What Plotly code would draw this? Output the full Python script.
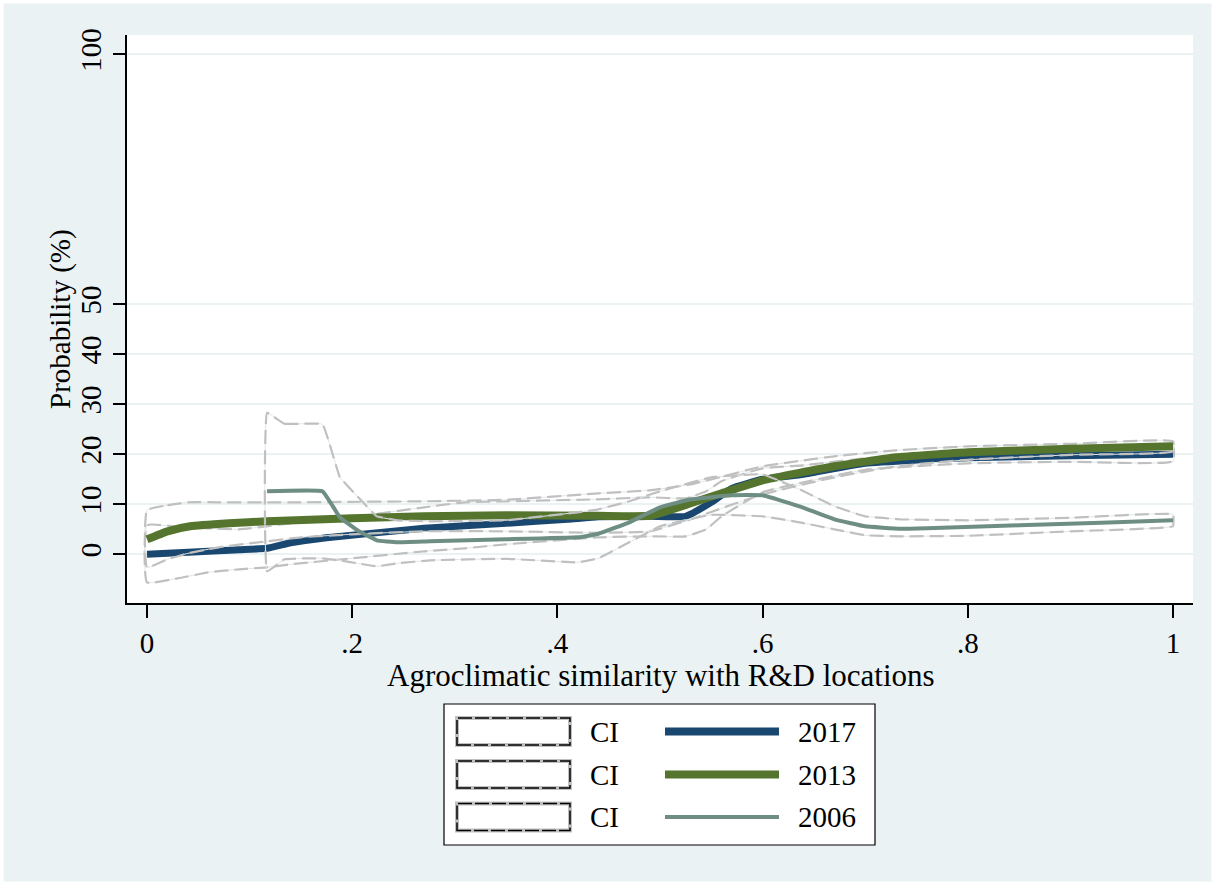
import plotly.graph_objects as go

# ---------------- data ----------------
x2017 = [0, .03, .06, .09, .117, .14, .175, .27, .35, .41, .44, .49, .525, .55, .57, .6, .64, .7, .8, .9, 1.0]
y2017 = [0, .3, .6, .9, 1.2, 2.3, 3.3, 5.2, 6.2, 7.0, 7.5, 7.6, 7.6, 10.4, 13.2, 15.0, 16.0, 18.2, 19.3, 19.7, 20.0]

x2013 = [0, .02, .042, .08, .117, .2, .27, .35, .44, .49, .53, .56, .6, .67, .73, .8, .9, 1.0]
y2013 = [3.0, 4.6, 5.6, 6.2, 6.6, 7.2, 7.6, 7.8, 7.7, 7.7, 10.2, 12.2, 14.8, 17.6, 19.4, 20.4, 21.1, 21.6]

x2006 = [.117, .171, .188, .205, .224, .244, .276, .35, .42, .44, .47, .5, .53, .57, .6, .636, .67, .70, .734, .76, .85, .93, 1.0]
y2006 = [12.6, 12.6, 7.4, 4.8, 2.8, 2.4, 2.6, 3.0, 3.4, 4.1, 6.4, 9.4, 11.0, 11.8, 11.8, 9.6, 7.0, 5.6, 5.1, 5.2, 5.8, 6.3, 6.8]

ci17_x = [0, .03, .06, .09, .117, .14, .2, .27, .31, .35, .44, .49, .525, .545, .56, .6, .64, .7, .8, .9, 1.0]
ci17_hi = [5.8, 5.5, 5.2, 5.0, 5.6, 6.2, 7.4, 9.4, 10.4, 10.6, 11.0, 11.4, 11.2, 12.6, 14.6, 17.2, 17.8, 19.2, 20.2, 20.8, 21.4]
ci17_lo = [-5.6, -4.8, -3.6, -3.0, -2.6, -2.0, -0.8, 0.6, 1.2, 2.0, 3.4, 3.6, 3.6, 5.0, 7.6, 12.4, 14.4, 16.9, 18.2, 18.5, 18.6]

ci13_x = [0, .02, .04, .07, .117, .15, .2, .27, .35, .44, .49, .53, .56, .6, .67, .73, .8, .9, 1.0]
ci13_hi = [8.8, 9.8, 10.4, 10.4, 10.4, 10.4, 10.5, 10.6, 10.9, 12.2, 12.8, 14.0, 15.5, 17.6, 19.6, 20.8, 21.6, 22.1, 22.6]
ci13_lo = [-2.6, -1.0, 0.2, 1.4, 2.6, 3.4, 4.0, 4.6, 4.6, 4.3, 4.6, 7.0, 9.2, 12.0, 15.4, 17.6, 18.9, 19.9, 20.6]

ci06_x = [.117, .134, .171, .188, .205, .224, .244, .276, .35, .42, .44, .47, .5, .55, .6, .636, .67, .70, .734, .8, .9, 1.0]
ci06_hi = [28.3, 26.1, 26.0, 15.4, 11.6, 7.6, 6.8, 6.6, 6.8, 8.4, 9.0, 10.6, 12.6, 15.4, 16.0, 13.0, 9.6, 7.6, 7.0, 6.8, 7.3, 8.0]
ci06_lo = [-3.4, -1.0, -0.8, -1.2, -1.8, -2.4, -1.8, -1.2, -0.9, -1.6, -0.8, 2.4, 5.6, 7.9, 7.6, 6.4, 5.0, 3.8, 3.6, 3.7, 4.6, 5.6]

xtick_vals = [0, 0.2, 0.4, 0.6, 0.8, 1.0]
xtick_text = ["0", ".2", ".4", ".6", ".8", "1"]
ytick_vals = [0, 10, 20, 30, 40, 50, 100]
ytick_text = ["0", "10", "20", "30", "40", "50", "100"]

series_names = ["2017", "2013", "2006"]
ci_label = "CI"

# ---------------- styles ----------------
C17 = "#1a476f"
C13 = "#55752f"
C06 = "#6e8e84"
CI_GRAY = "#c0c0c0"
BG = "#eaf2f3"
FONT = "Liberation Serif, Times New Roman, serif"

W, H = 1215, 885
L, R, T, B = 127, 1193, 35, 603


def px2x(px):
    return (px - L) / (R - L)


def py2y(py):
    return (B - py) / (B - T)


fig = go.Figure()


def add_ci(xs, hi, lo, smooth):
    px = list(xs) + list(reversed(xs)) + [xs[0]]
    py = list(hi) + list(reversed(lo)) + [hi[0]]
    fig.add_trace(go.Scatter(x=px, y=py, mode="lines", showlegend=False, hoverinfo="skip",
                             line=dict(color="#dfe7ea", width=1, shape="spline", smoothing=smooth)))
    fig.add_trace(go.Scatter(x=px, y=py, mode="lines", showlegend=False, hoverinfo="skip",
                             line=dict(color=CI_GRAY, width=2.2, dash="14px,6px", shape="spline",
                                       smoothing=smooth)))


def add_line(xs, ys, color, width, smooth):
    fig.add_trace(go.Scatter(x=xs, y=ys, mode="lines", showlegend=False,
                             line=dict(color=color, width=width, shape="spline", smoothing=smooth)))


add_ci(ci17_x, ci17_hi, ci17_lo, 0.4)
add_line(x2017, y2017, C17, 7, 0.4)
add_ci(ci13_x, ci13_hi, ci13_lo, 0.4)
add_line(x2013, y2013, C13, 8, 0.4)
add_ci(ci06_x, ci06_hi, ci06_lo, 0.25)
add_line(x2006, y2006, C06, 4, 0.25)

shapes = []
annotations = []

# outer white frame of the page
shapes.append(dict(type="rect", xref="paper", yref="paper", layer="above",
                   x0=px2x(0), x1=px2x(W), y0=py2y(H), y1=py2y(0),
                   line=dict(color="white", width=7), fillcolor="rgba(0,0,0,0)"))

# legend box
lx0, lx1, ly0, ly1 = 444, 875, 704, 845
shapes.append(dict(type="rect", xref="paper", yref="paper", layer="above",
                   x0=px2x(lx0), x1=px2x(lx1), y0=py2y(ly1), y1=py2y(ly0),
                   line=dict(color="black", width=1.2), fillcolor="white"))
row_y = [731.5, 774.5, 817]
line_cols = [C17, C13, C06]
line_ws = [8, 8, 4]
for i, ry in enumerate(row_y):
    for col, w, dash in [(CI_GRAY, 4, "solid"), ("black", 1.5, "14px,3px")]:
        shapes.append(dict(type="rect", xref="paper", yref="paper", layer="above",
                           x0=px2x(457), x1=px2x(570), y0=py2y(ry + 13.5), y1=py2y(ry - 13.5),
                           line=dict(color=col, width=w, dash=dash), fillcolor="rgba(0,0,0,0)"))
    shapes.append(dict(type="line", xref="paper", yref="paper", layer="above",
                       x0=px2x(665), x1=px2x(779), y0=py2y(ry), y1=py2y(ry),
                       line=dict(color=line_cols[i], width=line_ws[i])))
    annotations.append(dict(xref="paper", yref="paper", x=px2x(588), y=py2y(ry), text=ci_label,
                            showarrow=False, xanchor="left", yanchor="middle",
                            font=dict(family=FONT, size=29, color="black")))
    annotations.append(dict(xref="paper", yref="paper", x=px2x(796), y=py2y(ry), text=series_names[i],
                            showarrow=False, xanchor="left", yanchor="middle",
                            font=dict(family=FONT, size=29, color="black")))

# axis titles
annotations.append(dict(xref="paper", yref="paper", x=px2x(661), y=py2y(675),
                        text="Agroclimatic similarity with R&D locations", showarrow=False,
                        xanchor="center", yanchor="middle", font=dict(family=FONT, size=31, color="black")))
annotations.append(dict(xref="paper", yref="paper", x=px2x(60), y=py2y(319),
                        text="Probability (%)", showarrow=False, textangle=-90,
                        xanchor="center", yanchor="middle", font=dict(family=FONT, size=29, color="black")))

x_lo = (L - 147) / 1026
x_hi = (R - 147) / 1026
y_lo = (554.3 - B) / 5.0
y_hi = (554.3 - T) / 5.0

fig.update_layout(
    width=W, height=H,
    margin=dict(l=L, r=W - R, t=T, b=H - B, autoexpand=False),
    paper_bgcolor=BG, plot_bgcolor="white",
    showlegend=False,
    shapes=shapes, annotations=annotations,
    font=dict(family=FONT, size=29, color="black"),
    xaxis=dict(range=[x_lo, x_hi], tickvals=xtick_vals, ticktext=xtick_text,
               showgrid=False, zeroline=False, showline=True, linecolor="black", linewidth=2,
               ticks="outside", ticklen=13, tickwidth=1.5, tickcolor="black",
               tickfont=dict(family=FONT, size=29, color="black")),
    yaxis=dict(range=[y_lo, y_hi], tickvals=ytick_vals, ticktext=ytick_text, tickangle=-90,
               showgrid=True, gridcolor=BG, gridwidth=2, zeroline=False,
               showline=True, linecolor="black", linewidth=2,
               ticks="outside", ticklen=12, tickwidth=1.5, tickcolor="black",
               tickfont=dict(family=FONT, size=29, color="black")),
)

fig.write_html("out.html")
